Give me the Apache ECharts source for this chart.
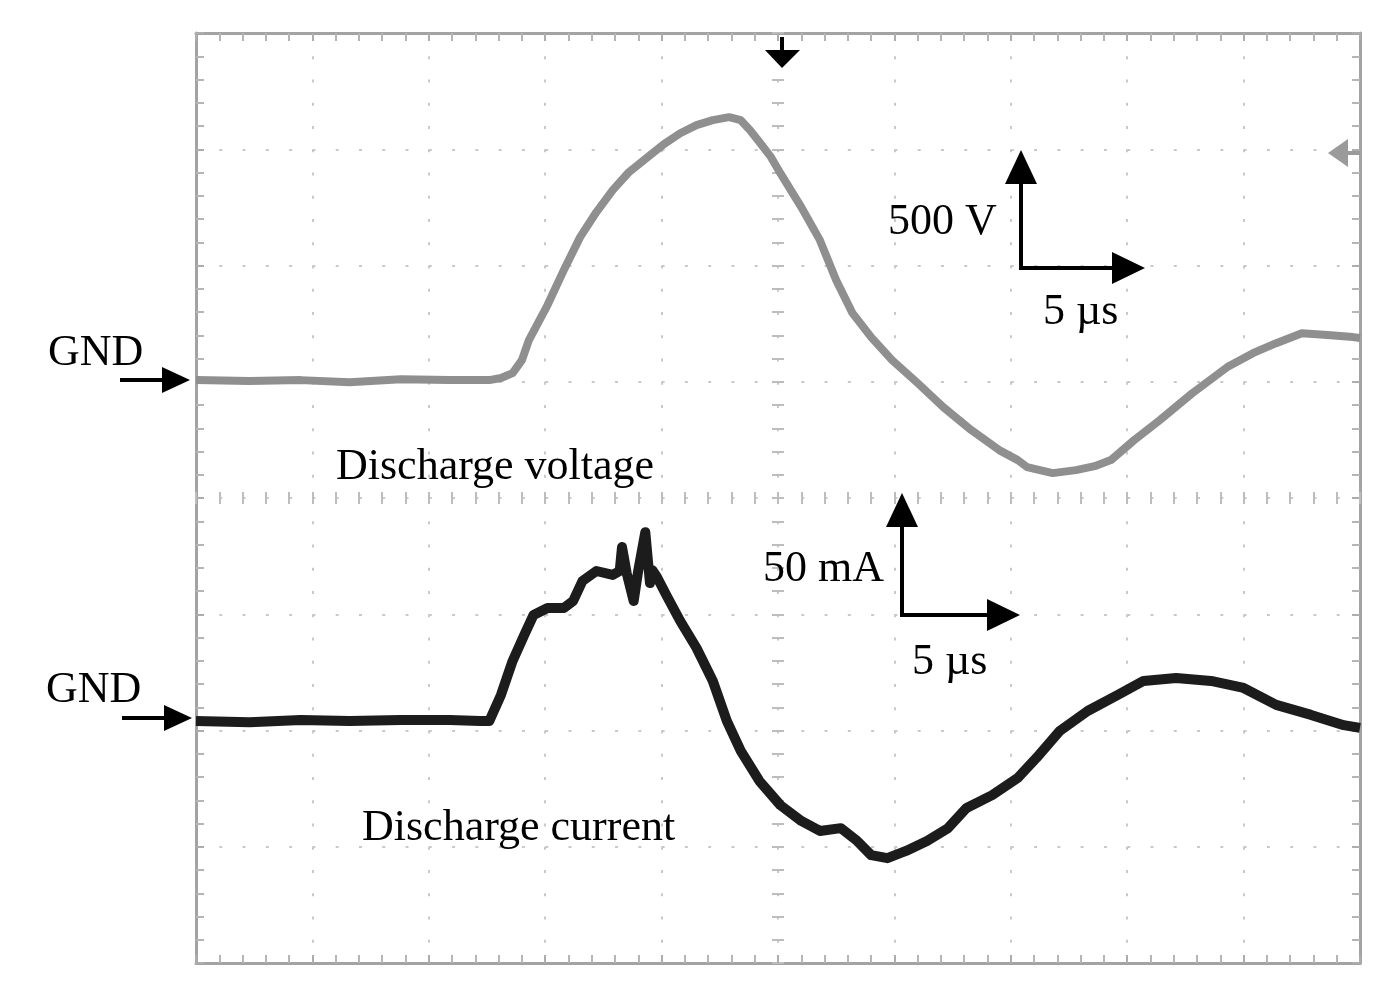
<!DOCTYPE html>
<html><head><meta charset="utf-8">
<script src="https://cdn.jsdelivr.net/npm/echarts@6/dist/echarts.min.js"></script>
<style>html,body{margin:0;padding:0;background:#fff}#c{width:1399px;height:1000px}</style>
</head><body><div id="c"></div>
<script>
// time in microseconds (5 µs / div, 10 divisions)
const voltageTime = [0,2.3,4.5,6.6,8.8,10.9,12.6,13.1,13.6,14.0,14.3,15.1,15.8,16.5,17.2,17.9,18.6,19.4,20.1,20.8,21.5,22.2,22.9,23.4,23.8,24.2,24.7,25.1,26.0,26.8,27.5,28.2,29.0,29.9,31.0,32.1,33.3,34.5,35.3,35.7,36.8,37.8,38.6,39.3,40.3,41.4,42.8,44.3,45.4,46.4,47.5,48.6,49.7,50];
// discharge voltage in V (500 V / div)
const voltageValues = [0,-4,0,-9,4,0,0,9,30,86,172,323,473,615,723,817,895,959,1015,1062,1097,1118,1131,1118,1075,1024,959,890,744,602,430,288,185,86,-13,-116,-215,-301,-344,-374,-400,-387,-370,-344,-258,-172,-56,56,116,159,202,194,185,181];
const currentTime = [0,2.3,4.5,6.6,8.8,10.9,12.2,12.6,13.1,13.6,14.1,14.5,15.1,15.8,16.2,16.6,17.2,17.9,18.2,18.3,18.5,18.8,19.0,19.3,19.5,19.6,19.8,20.2,20.8,21.5,22.2,22.8,23.4,24.2,25.1,26.0,26.8,27.7,28.4,29.0,29.7,30.5,31.4,32.3,33.1,34.2,35.3,36.1,37.1,38.3,39.6,40.7,42.1,43.6,45.0,46.4,47.9,49.3,50];
// discharge current in mA (50 mA / div)
const currentValues = [-0.4,-0.9,0,-0.4,0,0,-0.4,-0.4,10.8,25.4,36.6,45.2,48.2,48.2,51.2,59.8,64.1,62.4,64.1,74.4,63.2,51.2,64.5,80.8,58.9,64.5,61.5,53.8,42.6,31.0,16.8,-0.4,-13.3,-26.2,-36.6,-43.4,-47.7,-46.5,-52.0,-58.1,-59.4,-56.3,-52.0,-46.5,-37.8,-32.3,-24.9,-16.3,-4.7,3.9,10.8,16.8,18.1,16.8,13.8,6.5,2.2,-2.2,-3.4];

const annotationTexts = ['GND','GND','Discharge voltage','Discharge current','500 V','5 µs','50 mA','5 µs'];

const voltageData = voltageTime.map((t,i)=>[t, voltageValues[i]]);
const currentData = currentTime.map((t,i)=>[t, currentValues[i]]);

const chart = echarts.init(document.getElementById('c'));
function frameLine(){ return {show:true, onZero:false, lineStyle:{color:'#a3a3a3', width:3}}; }
function frameTick(){ return {show:true, inside:true, length:8, lineStyle:{color:'#adadad', width:2}}; }
function frameMinor(){ return {show:true, splitNumber:5, length:8, lineStyle:{color:'#b5b5b5', width:2}}; }
function centerTick(inside){ return {show:true, inside:inside, length:6, lineStyle:{color:'#bdbdbd', width:2}}; }
const font = '44px "Liberation Serif", "Times New Roman", serif';

function txt(s, x, y){ return {type:'text', style:{text:s, x:x, y:y, font:font, fill:'#000', textAlign:'left', textVerticalAlign:'middle'}, z:50}; }
function ln(x1,y1,x2,y2,c,w){ return {type:'line', shape:{x1,y1,x2,y2}, style:{stroke:c||'#000', lineWidth:w||4}, z:50}; }
function tri(p,c){ return {type:'polygon', shape:{points:p}, style:{fill:c||'#000'}, z:50}; }
const noLine = {show:false, onZero:false};

chart.setOption({
  animation:false,
  backgroundColor:'#fff',
  grid:{left:196, top:33, width:1164, height:930, containLabel:false},
  xAxis:[
    {type:'value', min:0, max:50, interval:5, position:'bottom', axisLine:frameLine(), axisTick:frameTick(), minorTick:frameMinor(), axisLabel:{show:false},
     splitLine:{show:true, lineStyle:{color:'#c9c9c9', width:2, type:[3,20.25]}}},
    {type:'value', min:0, max:50, interval:5, position:'top', axisLine:frameLine(), axisTick:frameTick(), minorTick:frameMinor(), axisLabel:{show:false}, splitLine:{show:false}},
    {type:'value', min:0, max:50, interval:1, position:'bottom', offset:-465, axisLine:noLine, axisTick:centerTick(true), axisLabel:{show:false}, splitLine:{show:false}},
    {type:'value', min:0, max:50, interval:1, position:'bottom', offset:-465, axisLine:noLine, axisTick:centerTick(false), axisLabel:{show:false}, splitLine:{show:false}}
  ],
  yAxis:[
    {type:'value', min:0, max:8, interval:1, position:'left', axisLine:frameLine(), axisTick:frameTick(), minorTick:frameMinor(), axisLabel:{show:false},
     splitLine:{show:true, lineStyle:{color:'#c9c9c9', width:2, type:[3,20.28]}}},
    {type:'value', min:0, max:8, interval:1, position:'right', axisLine:frameLine(), axisTick:frameTick(), minorTick:frameMinor(), axisLabel:{show:false}, splitLine:{show:false}},
    {type:'value', min:0, max:40, interval:1, position:'left', offset:-582, axisLine:noLine, axisTick:centerTick(true), axisLabel:{show:false}, splitLine:{show:false}},
    {type:'value', min:0, max:40, interval:1, position:'left', offset:-582, axisLine:noLine, axisTick:centerTick(false), axisLabel:{show:false}, splitLine:{show:false}},
    {type:'value', show:false, min:-2507, max:1493},
    {type:'value', show:false, min:-104.5, max:295.5}
  ],
  series:[
    {type:'line', name:'Discharge voltage', xAxisIndex:0, yAxisIndex:4, data:voltageData, showSymbol:false, smooth:false,
     lineStyle:{color:'#8f8f8f', width:8, join:'round'}, z:5},
    {type:'line', name:'Discharge current', xAxisIndex:0, yAxisIndex:5, data:currentData, showSymbol:false, smooth:false,
     lineStyle:{color:'#1c1c1c', width:10, join:'round'}, z:6}
  ],
  graphic:[
    txt(annotationTexts[0], 48, 353),
    txt(annotationTexts[1], 46, 690),
    txt(annotationTexts[2], 336, 467),
    txt(annotationTexts[3], 362, 828),
    txt(annotationTexts[4], 888, 222),
    txt(annotationTexts[5], 1043, 312),
    txt(annotationTexts[6], 763, 569),
    txt(annotationTexts[7], 912, 662),
    // GND arrows
    ln(120,380,166,380), tri([[190,380],[162,367],[162,393]]),
    ln(122,718,168,718), tri([[192,718],[164,705],[164,731]]),
    // trigger markers
    ln(782,37,782,56), tri([[765,50],[800,50],[782,68]]),
    ln(1344,153,1360,153,'#9a9a9a',4), tri([[1328,153],[1348,139],[1348,167]],'#9a9a9a'),
    // scale bar voltage
    ln(1021,268,1021,180), ln(1019,268,1115,268), tri([[1021,150],[1005,184],[1037,184]]), tri([[1145,268],[1112,252],[1112,284]]),
    // scale bar current
    ln(902,615,902,525), ln(900,615,990,615), tri([[902,493],[886,527],[918,527]]), tri([[1020,615],[987,599],[987,631]])
  ]
});
</script>
</body></html>
